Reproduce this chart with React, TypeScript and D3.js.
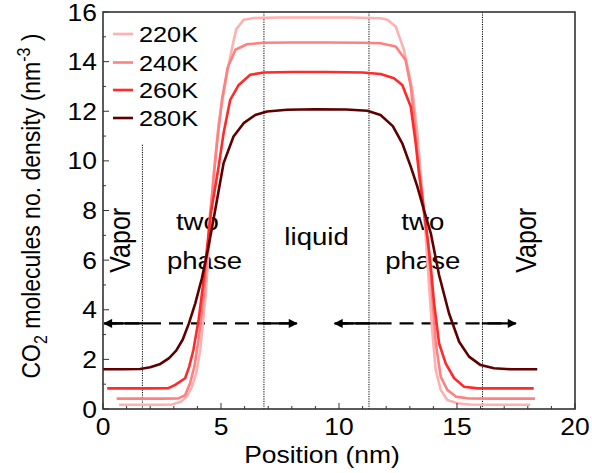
import React from "react";
import * as d3 from "d3";

const W = 592;
const H = 473;
const M = { left: 103, right: 575, top: 12, bottom: 409 };

const seriesNames = ["220K", "240K", "260K", "280K"];
const seriesColors = ["#ffb0b0", "#ff8080", "#ff2a2a", "#5e0000"];

const d220: [number, number][] = [
  [0.68, 0.17], [1.5, 0.17], [2.5, 0.17], [2.92, 0.18], [3.3, 0.29], [3.55, 0.5], [3.77, 0.9],
  [3.95, 1.44], [4.12, 2.38], [4.26, 3.72], [4.35, 4.6], [4.45, 6.0], [4.56, 7.7], [4.7, 9.6],
  [4.9, 11.5], [5.11, 12.73], [5.32, 13.85], [5.51, 14.74], [5.65, 15.31], [5.96, 15.69],
  [6.4, 15.76], [7.5, 15.78], [9, 15.78], [10.5, 15.78], [11.76, 15.75], [12.05, 15.69],
  [12.4, 15.42], [12.75, 14.48], [13.11, 12.86], [13.32, 11.12], [13.46, 9.5], [13.6, 8.02],
  [13.7, 6.6], [13.81, 5.07], [13.96, 3.05], [14.1, 1.57], [14.31, 0.77], [14.59, 0.36],
  [15.02, 0.23], [15.5, 0.18], [16.5, 0.17], [18.1, 0.17],
];

const d240: [number, number][] = [
  [0.58, 0.42], [1.5, 0.42], [2.5, 0.42], [3.2, 0.43], [3.48, 0.56], [3.69, 1.04], [3.88, 1.75],
  [4.05, 2.8], [4.16, 3.7], [4.28, 4.7], [4.4, 6.0], [4.54, 7.89], [4.68, 9.23], [4.83, 10.71],
  [5.04, 12.46], [5.28, 13.75], [5.61, 14.48], [6.1, 14.7], [6.8, 14.76], [8, 14.77],
  [9.5, 14.77], [11, 14.76], [11.76, 14.74], [12.4, 14.61], [12.82, 14.07], [13.04, 13.0],
  [13.18, 11.79], [13.32, 10.31], [13.53, 8.43], [13.68, 7.3], [13.81, 6.41], [13.96, 4.4],
  [14.1, 2.65], [14.31, 1.3], [14.59, 0.77], [14.95, 0.5], [15.44, 0.43], [16.5, 0.42],
  [18.3, 0.42],
];

const d260: [number, number][] = [
  [0.18, 0.83], [1, 0.83], [2, 0.83], [2.77, 0.84], [3.06, 0.97], [3.48, 1.24], [3.65, 1.7],
  [3.83, 2.38], [4.05, 3.59], [4.23, 4.93], [4.4, 6.41], [4.57, 7.89], [4.9, 9.77],
  [5.11, 11.12], [5.39, 12.46], [5.75, 13.06], [6.24, 13.47], [6.81, 13.56], [8, 13.58],
  [9.5, 13.58], [11, 13.56], [11.76, 13.5], [12.33, 13.33], [12.68, 13.06], [13.04, 12.19],
  [13.25, 10.71], [13.39, 9.5], [13.6, 8.02], [13.75, 6.9], [13.89, 5.74], [14.03, 4.26],
  [14.24, 2.65], [14.52, 1.84], [14.88, 1.24], [15.3, 0.9], [15.87, 0.83], [17, 0.83],
  [18.25, 0.83],
];

const d280: [number, number][] = [
  [0, 1.6], [0.8, 1.6], [1.57, 1.61], [2.0, 1.68], [2.4, 1.8], [2.8, 2.05], [3.1, 2.35],
  [3.38, 2.8], [3.64, 3.45], [3.91, 4.26], [4.19, 5.27], [4.47, 6.54], [4.76, 8.05],
  [5.11, 9.91], [5.53, 10.98], [5.96, 11.52], [6.45, 11.85], [6.95, 11.99], [7.8, 12.06],
  [9, 12.08], [10.3, 12.07], [11.2, 12.02], [11.76, 11.85], [12.28, 11.4], [12.68, 10.71],
  [13.04, 9.77], [13.32, 8.96], [13.6, 8.02], [13.89, 7.08], [14.24, 5.4], [14.66, 3.86],
  [15.09, 2.71], [15.51, 2.11], [16.0, 1.77], [16.57, 1.64], [17.3, 1.6], [18.4, 1.6],
];

const seriesData = [d220, d240, d260, d280];

const xTicks = [0, 5, 10, 15, 20];
const xMinorTicks = d3.range(0, 21, 1);
const yTicks = [0, 2, 4, 6, 8, 10, 12, 14, 16];
const yMinorTicks = d3.range(0, 17, 1);

// dotted region separators: [x, top y value]
const separators: [number, number][] = [
  [1.67, 10.65],
  [6.82, 16],
  [11.27, 16],
  [16.08, 16],
];

// double arrows: [x0, x1, y]
const arrows: [number, number, number][] = [
  [0, 8.3, 3.45],
  [9.77, 17.58, 3.45],
];

// region labels: [x (nm), y (density), text]
const regionLabels: [number, number, string][] = [
  [4.0, 7.2, "two"],
  [4.3, 5.65, "phase"],
  [9.05, 6.6, "liquid"],
  [13.55, 7.2, "two"],
  [13.55, 5.65, "phase"],
];
const vaporLabels: [number, number][] = [
  [0.8, 6.8],
  [18.0, 6.8],
];

const FONT = "'Liberation Sans', Arial, Helvetica, sans-serif";
const SX = 1.15;

function T(props: {
  x: number;
  y: number;
  size: number;
  anchor?: string;
  rotate?: boolean;
  children: React.ReactNode;
}) {
  const { x, y, size, anchor = "middle", rotate, children } = props;
  return (
    <text
      transform={`translate(${x},${y}) scale(${SX},1)${rotate ? " rotate(-90)" : ""}`}
      fontSize={size}
      fontFamily={FONT}
      textAnchor={anchor}
      fill="#000"
    >
      {children}
    </text>
  );
}

export default function App() {
  const x = d3.scaleLinear().domain([0, 20]).range([M.left, M.right]);
  const y = d3.scaleLinear().domain([0, 16]).range([M.bottom, M.top]);
  const line = d3
    .line<[number, number]>()
    .x((d) => x(d[0]))
    .y((d) => y(d[1]));

  const axisColor = "#333";

  return (
    <svg
      width={W}
      height={H}
      style={{ position: "absolute", left: 0, top: 0, background: "#fff" }}
    >
      <defs>
        <marker id="ah" viewBox="0 0 10 10" refX="9" refY="5" markerWidth="11" markerHeight="9"
          markerUnits="userSpaceOnUse" orient="auto-start-reverse">
          <path d="M0,0 L10,5 L0,10 z" fill="#000" />
        </marker>
      </defs>
      <rect x={0} y={0} width={W} height={H} fill="#fff" />

      {/* separators */}
      {separators.map(([sx, top], i) => (
        <line key={"s" + i} x1={x(sx)} x2={x(sx)} y1={y(top)} y2={y(0)}
          stroke="#000" strokeWidth={1} strokeDasharray="1.2,1.2" />
      ))}

      {/* arrows */}
      {arrows.map(([a0, a1, ay], i) => {
        const xa = x(a0), xb = x(a1), yy = y(ay);
        return (
          <g key={"a" + i}>
            <line x1={xa + 8} x2={xb - 8} y1={yy} y2={yy} stroke="#000" strokeWidth={2.2}
              strokeDasharray="14,8" strokeDashoffset={-36} />
            <line x1={xa + 2} x2={xa + 44} y1={yy} y2={yy} stroke="#000" strokeWidth={2.2} />
            <line x1={xb - 36} x2={xb - 2} y1={yy} y2={yy} stroke="#000" strokeWidth={2.2}
              markerEnd="url(#ah)" />
            <line x1={xa + 20} x2={xa + 1} y1={yy} y2={yy} stroke="#000" strokeWidth={2.2}
              markerEnd="url(#ah)" />
          </g>
        );
      })}

      {/* region labels */}
      {regionLabels.map(([lx, ly, t], i) => (
        <T key={"r" + i} x={x(lx)} y={y(ly)} size={24}>{t}</T>
      ))}
      {vaporLabels.map(([lx, ly], i) => (
        <T key={"v" + i} x={x(lx) + 8} y={y(ly)} size={25} rotate>Vapor</T>
      ))}

      {/* curves */}
      {seriesData.map((d, i) => (
        <path key={"c" + i} d={line(d) || ""} fill="none" stroke={seriesColors[i]}
          strokeWidth={2.6} strokeLinejoin="round" />
      ))}

      {/* axes box */}
      <rect x={M.left} y={M.top} width={M.right - M.left} height={M.bottom - M.top}
        fill="none" stroke={axisColor} strokeWidth={1.6} />

      {/* ticks (bottom and left only) */}
      {xMinorTicks.map((t) => (
        <line key={"xm" + t} x1={x(t)} x2={x(t)} y1={M.bottom} y2={M.bottom - (t % 5 === 0 ? 6 : 3)}
          stroke={axisColor} strokeWidth={1} />
      ))}
      {yMinorTicks.map((t) => (
        <line key={"ym" + t} x1={M.left} x2={M.left + (t % 2 === 0 ? 6 : 3)} y1={y(t)} y2={y(t)}
          stroke={axisColor} strokeWidth={1} />
      ))}

      {xTicks.map((t) => (
        <T key={"xl" + t} x={x(t)} y={M.bottom + 26} size={23}>{t}</T>
      ))}
      {yTicks.map((t) => (
        <T key={"yl" + t} x={M.left - 6} y={y(t) + 8.5} size={23} anchor="end">{t}</T>
      ))}

      {/* axis titles */}
      <T x={(M.left + M.right) / 2 - 17} y={463} size={23}>Position (nm)</T>
      <text
        transform={`translate(40,206) scale(${SX},1) rotate(-90)`}
        fontSize={23}
        fontFamily={FONT}
        textAnchor="middle"
      >
        CO
        <tspan fontSize={16} dy={6}>2</tspan>
        <tspan dy={-6}> molecules no. density (nm</tspan>
        <tspan fontSize={16} dy={-9}>-3</tspan>
        <tspan dy={9}> )</tspan>
      </text>

      {/* legend */}
      {seriesNames.map((n, i) => {
        const ly = [34, 62.5, 90, 118][i];
        return (
          <g key={"lg" + i}>
            <line x1={113} x2={133} y1={ly} y2={ly} stroke={seriesColors[i]} strokeWidth={2.6} />
            <T x={139} y={ly + 8} size={22} anchor="start">{n}</T>
          </g>
        );
      })}
    </svg>
  );
}
